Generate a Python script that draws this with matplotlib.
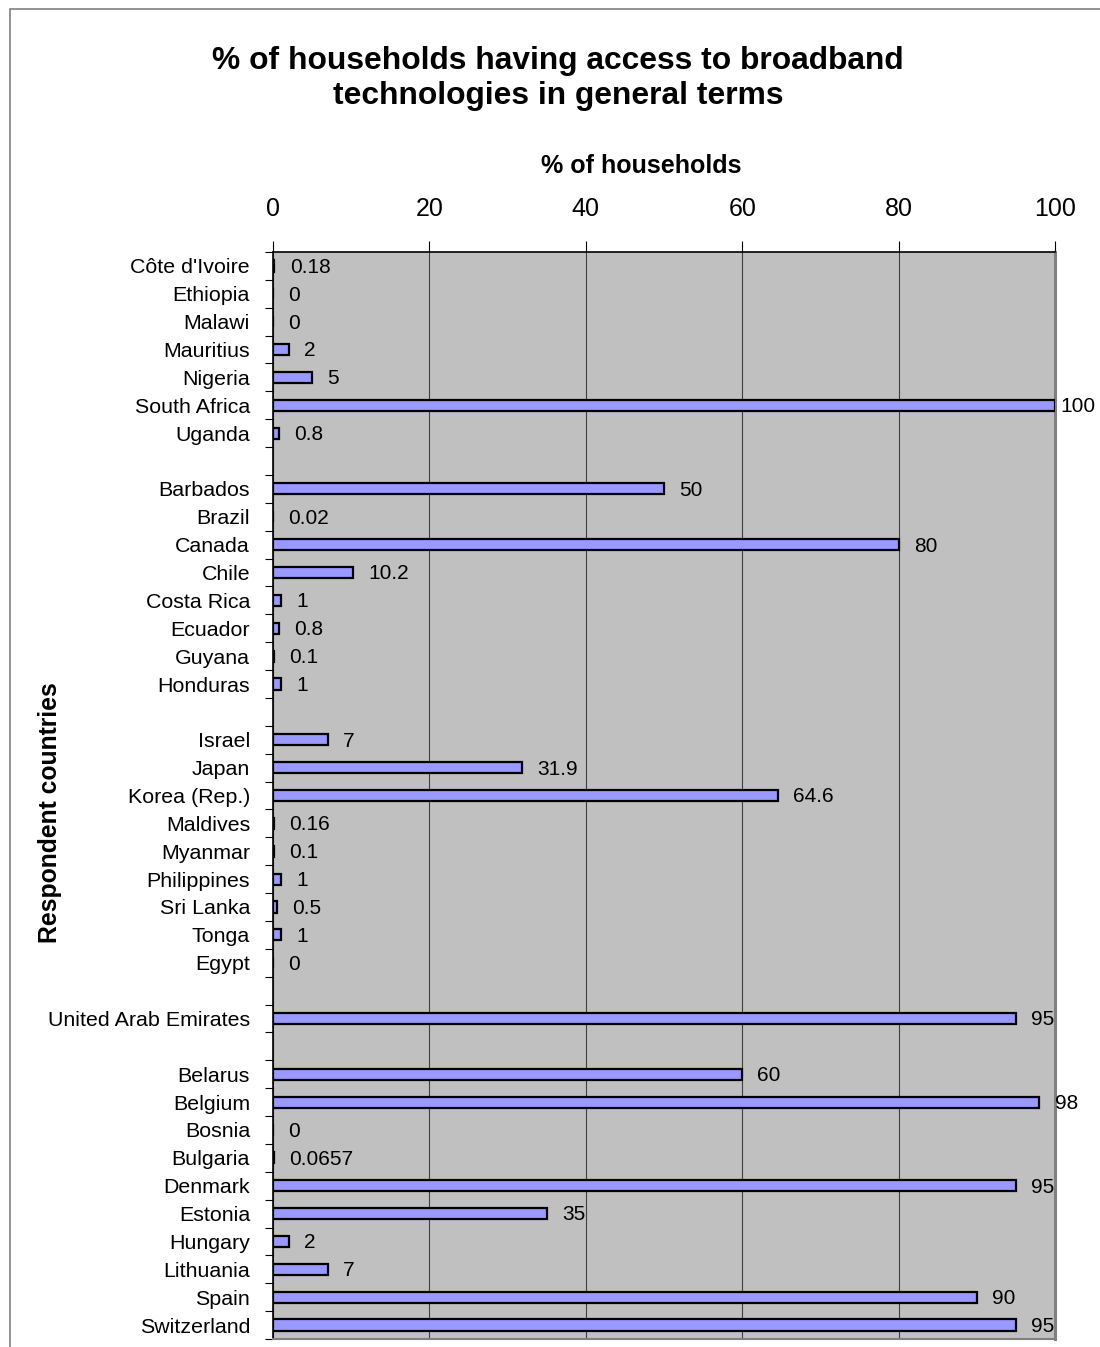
import numpy as np
import matplotlib
matplotlib.use('Agg')
import matplotlib.pyplot as plt
from matplotlib.patches import Rectangle

plt.rcParams['font.family'] = ['Liberation Sans', 'DejaVu Sans']

# country groups (a blank slot is left between groups)
africa = ["Côte d'Ivoire", 'Ethiopia', 'Malawi', 'Mauritius', 'Nigeria', 'South Africa', 'Uganda']
africa_val = [0.18, 0, 0, 2, 5, 100, 0.8]
americas = ['Barbados', 'Brazil', 'Canada', 'Chile', 'Costa Rica', 'Ecuador', 'Guyana', 'Honduras']
americas_val = [50, 0.02, 80, 10.2, 1, 0.8, 0.1, 1]
asia = ['Israel', 'Japan', 'Korea (Rep.)', 'Maldives', 'Myanmar', 'Philippines', 'Sri Lanka', 'Tonga', 'Egypt']
asia_val = [7, 31.9, 64.6, 0.16, 0.1, 1, 0.5, 1, 0]
arab = ['United Arab Emirates']
arab_val = [95]
europe = ['Belarus', 'Belgium', 'Bosnia', 'Bulgaria', 'Denmark', 'Estonia', 'Hungary', 'Lithuania', 'Spain', 'Switzerland']
europe_val = [60, 98, 0, 0.0657, 95, 35, 2, 7, 90, 95]

groups = [(africa, africa_val), (americas, americas_val), (asia, asia_val),
          (arab, arab_val), (europe, europe_val)]

names, vals, pos = [], [], []
i = 0
for g_names, g_vals in groups:
    for n, v in zip(g_names, g_vals):
        names.append(n)
        vals.append(v)
        pos.append(i)
        i += 1
    i += 1  # gap
n_slots = i - 1

fig = plt.figure(figsize=(11, 13.47), dpi=100)
fig.patches.append(Rectangle((10 / 1100, -0.01), 1.1, 1 - 9 / 1347 + 0.01,
                             transform=fig.transFigure, fill=False,
                             edgecolor='#808080', linewidth=1.2))

ax = fig.add_axes([273 / 1100, 1 - 1339 / 1347, (1055 - 273) / 1100, (1339 - 252) / 1347])
ax.set_facecolor('#C0C0C0')

ax.barh(pos, vals, height=0.4, color='#9999FF', edgecolor='black', linewidth=1.6, zorder=3)
for p, v in zip(pos, vals):
    off = 11 if v < 100 else 4  # label squeezed in at the axis end
    ax.annotate(f'{v:g}', (v, p), xytext=(off, -1), textcoords='offset points',
                va='center', ha='left', fontsize=15, zorder=4,
                annotation_clip=False)

ax.set_xlim(0, 100)
ax.set_ylim(n_slots - 0.5, -0.5)
ax.xaxis.tick_top()
ax.set_xticks(np.arange(0, 101, 20))
ax.tick_params(axis='x', direction='out', length=8, width=0.8, pad=14, labelsize=18)
ax.grid(axis='x', color='#404040', linewidth=0.8, zorder=1)

ax.set_yticks(pos)
ax.set_yticklabels(names, fontsize=15.4)
ax.tick_params(axis='y', length=0, pad=16.5)
ax.set_yticks(np.arange(-0.5, n_slots, 1), minor=True)
ax.tick_params(axis='y', which='minor', length=6, width=0.8, direction='out')

for s in ['top', 'left']:
    ax.spines[s].set_linewidth(1.2)
    ax.spines[s].set_color('black')
ax.spines['right'].set_color('#808080')
ax.spines['right'].set_linewidth(2.2)
ax.spines['bottom'].set_color('#808080')
ax.spines['bottom'].set_linewidth(1.5)

ax.xaxis.set_label_position('top')
ax.set_xlabel('% of households', fontsize=18, fontweight='bold')
ax.xaxis.set_label_coords((641 - 273) / 782, (1339 - 166) / 1087)
ax.xaxis.label.set_va('center')
ax.set_ylabel('Respondent countries', fontsize=17.8, fontweight='bold')
ax.yaxis.set_label_coords((50 - 273) / 782, (1339 - 813) / 1087)
ax.yaxis.label.set_va('center')

fig.text(558 / 1100, 1 - 78.5 / 1347,
         '% of households having access to broadband\ntechnologies in general terms',
         ha='center', va='center', fontsize=22.9, fontweight='bold', linespacing=1.25)

fig.savefig('out.png', dpi=100)
